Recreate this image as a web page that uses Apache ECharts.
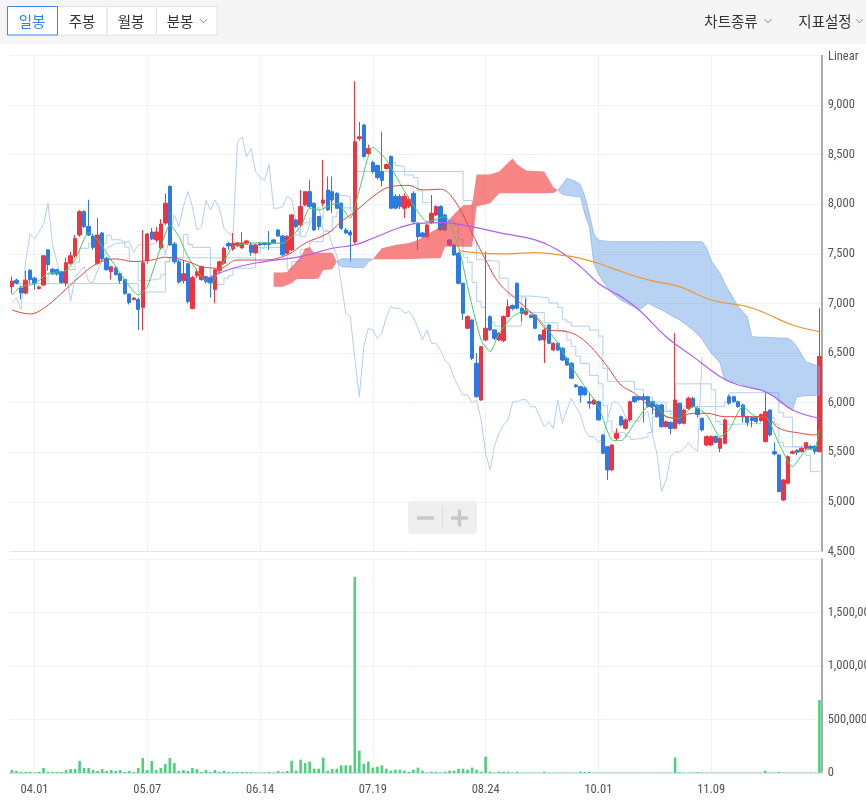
<!DOCTYPE html>
<html><head><meta charset="utf-8">
<script src="https://cdn.jsdelivr.net/npm/echarts@6/dist/echarts.min.js"></script>
<style>html,body{margin:0;padding:0;background:#fff}#c{width:866px;height:804px}</style>
</head><body><div id="c"></div>
<script>
const dates = ['03.25','03.26','03.29','03.30','03.31',
'04.01','04.02','04.05','04.06','04.07','04.08','04.09','04.12','04.13','04.14','04.15','04.16','04.19','04.20','04.21','04.22','04.23','04.26','04.27','04.28','04.29','04.30',
'05.03','05.04','05.06','05.07','05.10','05.11','05.12','05.13','05.14','05.17','05.18','05.20','05.21','05.24','05.25','05.26','05.27','05.28','05.31',
'06.01','06.02','06.03','06.04','06.07','06.08','06.09','06.10','06.11','06.14','06.15','06.16','06.17','06.18','06.21','06.22','06.23','06.24','06.25','06.28','06.29','06.30',
'07.01','07.02','07.05','07.06','07.07','07.08','07.09','07.12','07.13','07.14','07.15','07.16','07.19','07.20','07.21','07.22','07.23','07.26','07.27','07.28','07.29','07.30',
'08.02','08.03','08.04','08.05','08.06','08.09','08.10','08.11','08.12','08.13','08.17','08.18','08.19','08.20','08.23','08.24','08.25','08.26','08.27','08.30','08.31',
'09.01','09.02','09.03','09.06','09.07','09.08','09.09','09.10','09.13','09.14','09.15','09.16','09.17','09.23','09.24','09.27','09.28','09.29','09.30',
'10.01','10.05','10.06','10.07','10.08','10.12','10.13','10.14','10.15','10.18','10.19','10.20','10.21','10.22','10.25','10.26','10.27','10.28','10.29',
'11.01','11.02','11.03','11.04','11.05','11.08','11.09','11.10','11.11','11.12','11.15','11.16','11.17','11.18','11.19','11.22','11.23','11.24','11.25','11.26','11.29','11.30',
'12.01','12.02','12.03','12.06','12.07','12.08','12.09','12.10','12.13'];

const openP = [7170,7235,7155,7105,7335,7255,7150,7185,7540,7345,
7340,7320,7205,7405,7480,7690,7925,7775,7680,7405,
7710,7455,7320,7360,7300,7240,7095,7040,7040,6960,
7430,7720,7640,7560,7810,8180,7600,7420,7230,7400,
6950,7280,7240,7270,7260,7140,7330,7405,7605,7550,
7580,7560,7600,7590,7510,7605,7610,7610,7640,7740,
7680,7506,7539,7842,7791,7992,8127,8010,7876,8010,
8144,8127,8110,8010,7740,7720,7620,8660,8798,8510,
8420,8390,8330,8360,8480,8080,8077,7960,7980,8110,
7808,7710,7673,7814,7892,7976,7892,7640,7590,7506,
7203,6750,6834,6397,6027,6632,6867,6733,6632,6625,
6867,6980,7203,6952,6890,6880,6884,6683,6632,6783,
6531,6599,6548,6447,6397,6178,6161,6150,6010,5986,
6010,5674,5556,5322,5641,5859,5742,5826,6060,6060,
6060,6060,6010,5977,5977,5758,5800,5742,5994,5792,
5943,6044,5940,5843,5573,5573,5658,5540,5590,6060,
6060,6010,5977,5860,5850,5850,5820,5607,5926,5506,
5473,5019,5188,5490,5520,5506,5540,5560,5560,5506];

const highP = [7270,7250,7180,7330,7345,7270,7180,7490,7545,7360,
7350,7330,7460,7520,7690,7940,7940,8045,7700,7860,
7720,7470,7380,7380,7310,7250,7100,7060,7060,7740,
7710,7760,7770,7850,8110,8190,7620,7440,7440,7410,
7280,7350,7380,7280,7270,7350,7430,7570,7620,7710,
7620,7720,7640,7620,7600,7620,7620,7730,7650,7750,
7690,7690,7900,7850,8144,8130,8245,8020,7880,8447,
8280,8280,8120,8020,7760,7740,9240,8830,8810,8600,
8440,8400,8730,8410,8490,8100,8100,8110,8080,8130,
7820,7720,7800,8093,7990,7990,7900,7650,7600,7520,
7210,6880,6840,6500,6570,7522,6880,6740,6710,6880,
7040,6990,7210,6960,7050,6890,6890,6690,6750,6790,
6610,6610,6560,6460,6410,6190,6170,6160,6100,6040,
6020,5680,5560,5580,5740,5870,5840,6020,6070,6070,
6090,6070,6020,5990,5990,5820,5810,6700,6000,5940,
6060,6060,5960,5850,5670,5670,5670,5650,5840,6080,
6070,6020,5990,5870,5860,5860,5890,6100,5930,5600,
5480,5230,5470,5520,5530,5550,5600,5570,5570,6952];

const lowP = [7100,7190,7040,7090,7200,7140,7140,7180,7330,7290,
7280,7200,7170,7390,7460,7670,7760,7680,7540,7390,
7430,7330,7240,7280,7200,7090,6990,7030,6730,6730,
7400,7640,7620,7540,7790,7580,7400,7200,7200,7000,
6940,7260,7230,7200,7060,7000,7300,7390,7540,7530,
7570,7550,7590,7480,7500,7580,7590,7540,7600,7670,
7480,7500,7530,7760,7780,7980,7960,7730,7740,7976,
7930,7910,7950,7740,7700,7420,7600,8640,8470,8490,
8310,8250,8180,8350,7950,7950,7950,7860,7960,7810,
7539,7660,7660,7800,7880,7730,7730,7580,7480,7190,
6834,6740,6430,6050,6020,6620,6720,6630,6620,6610,
6860,6930,6940,6820,6880,6850,6740,6620,6400,6590,
6520,6520,6420,6370,6240,6150,6000,6070,5940,5980,
5820,5480,5221,5310,5620,5760,5730,5810,6000,6020,
5800,5950,5880,5850,5750,5750,5680,5730,5780,5780,
5930,5950,5850,5710,5560,5560,5590,5500,5580,5980,
6000,5950,5800,5760,5750,5790,5810,5600,5660,5470,
5100,5010,5180,5480,5470,5500,5530,5530,5480,5500];

const closeP = [7225,7205,7105,7235,7240,7205,7165,7480,7390,7305,
7300,7210,7410,7480,7655,7925,7775,7690,7565,7690,
7450,7340,7370,7290,7230,7100,7010,7055,6940,7410,
7700,7650,7720,7800,8010,7590,7420,7215,7300,7020,
7260,7320,7370,7220,7210,7340,7420,7556,7580,7605,
7610,7610,7630,7515,7590,7590,7595,7595,7610,7680,
7490,7673,7892,7774,7976,8127,7976,7741,7774,8043,
7943,8043,7959,7758,7710,7690,8630,8680,8480,8560,
8330,8270,8240,8400,7960,7960,7976,8080,8050,7824,
7673,7673,7791,7909,7976,7741,7741,7590,7489,7203,
6901,6867,6447,6060,6564,6750,6733,6649,6700,6867,
6968,6950,6952,6900,6920,6860,6750,6632,6733,6599,
6599,6531,6430,6380,6246,6161,6077,6080,5994,6027,
5826,5490,5322,5573,5691,5775,5826,6010,6010,6030,
6030,5960,5960,5859,5758,5808,5740,6027,5792,5926,
6044,5960,5880,5725,5658,5658,5600,5641,5826,5994,
6010,5960,5859,5800,5820,5810,5880,5909,5674,5483,
5103,5221,5456,5506,5500,5540,5597,5540,5510,6465];

const volume = [28000,19000,9000,9000,9000,4000,9000,47000,9000,9000,
9000,9000,28000,37000,37000,112000,47000,47000,28000,19000,
37000,19000,28000,19000,28000,9000,19000,9000,47000,140000,
28000,112000,28000,47000,84000,140000,93000,19000,28000,19000,
47000,37000,9000,28000,9000,28000,9000,19000,9000,9000,
9000,9000,9000,9000,3000,3000,3000,9000,3000,19000,
9000,19000,115000,22000,125000,93000,107000,40000,40000,143000,
22000,40000,40000,72000,72000,72000,1832000,209000,84000,107000,
50000,59000,72000,40000,22000,31000,31000,22000,12000,31000,
50000,22000,3000,12000,12000,5000,12000,22000,22000,40000,
40000,31000,50000,31000,12000,153000,12000,3000,12000,12000,
12000,3000,12000,3000,3000,3000,3000,3000,12000,3000,
3000,3000,3000,3000,3000,3000,12000,10000,12000,3000,
3000,3000,3000,3000,3000,3000,3000,3000,3000,3000,
3000,3000,3000,3000,3000,3000,3000,145000,8000,3000,
3000,3000,8000,3000,3000,3000,3000,3000,3000,3000,
3000,3000,3000,3000,3000,3000,3000,22000,3000,3000,
10000,3000,3000,3000,3000,3000,3000,3000,3000,682000];

// moving averages: [candle index, value]
const ma5 = [[0,7085],[2,7169],[5,7196],[8,7304],[12,7331],[14,7438],[17,7714],[19,7640],[22,7438],[25,7237],[28,7085],[30,7169],[33,7572],[35,7791],[37,7673],[39,7471],[42,7270],[44,7190],[46,7338],[49,7572],[53,7607],[56,7610],[60,7607],[64,7774],[66,7960],[68,7943],[72,8010],[75,7860],[77,8144],[80,8574],[83,8447],[86,8210],[89,7990],[92,7824],[96,7875],[99,7572],[101,7169],[104,6632],[106,6514],[108,6699],[111,6867],[114,6934],[117,6834],[121,6599],[124,6364],[127,6161],[130,5960],[133,5624],[135,5617],[138,5792],[142,6010],[145,5859],[148,5843],[151,5960],[154,5876],[157,5658],[159,5725],[162,5960],[165,5859],[167,5859],[170,5590],[173,5355],[176,5523],[178,5540],[179,5725]];
const ma20 = [[0,6934],[4,6894],[7,6951],[11,7103],[15,7270],[19,7405],[23,7449],[27,7422],[31,7438],[34,7466],[39,7422],[42,7371],[46,7355],[50,7438],[56,7438],[61,7489],[65,7607],[70,7707],[73,7824],[76,7925],[81,8110],[84,8177],[88,8190],[91,8144],[95,8151],[98,8043],[102,7707],[105,7438],[108,7203],[112,7035],[116,6867],[119,6733],[123,6716],[127,6620],[132,6363],[135,6178],[138,6094],[142,5943],[147,5843],[151,5893],[154,5893],[158,5859],[163,5859],[167,5859],[170,5742],[175,5691],[178,5674],[179,5708]];
const ma60 = [[43,7247],[49,7355],[56,7422],[64,7472],[71,7556],[76,7590],[80,7657],[86,7766],[90,7808],[96,7814],[101,7781],[108,7714],[116,7640],[121,7539],[126,7371],[130,7203],[133,7120],[135,7069],[139,6934],[145,6665],[151,6464],[157,6262],[161,6178],[166,6128],[169,6060],[173,5926],[179,5843]];
const ma120 = [[99,7532],[108,7499],[116,7512],[123,7479],[126,7455],[130,7405],[134,7338],[141,7237],[148,7169],[155,7035],[163,6968],[167,6901],[173,6783],[179,6716]];

// Ichimoku conversion / base lines (level changes): [candle index, value]
const tenkan = [[0,7200],[8,7292],[11,7317],[12,7342],[14,7415],[15,7555],[17,7607],[21,7687],[22,7642],[24,7622],[25,7567],[26,7425],[28,7225],[29,7235],[31,7245],[32,7250],[33,7290],[34,7420],[35,7460],[38,7695],[39,7595],[40,7565],[44,7280],[45,7190],[47,7255],[48,7280],[49,7355],[53,7360],[54,7510],[55,7555],[56,7600],[57,7605],[59,7615],[62,7690],[64,7812],[66,7862],[69,7973],[70,7988],[71,8088],[74,8073],[75,7933],[76,8330],[84,8420],[85,8390],[86,8380],[87,8295],[89,8270],[90,8135],[91,8015],[93,7835],[98,7787],[99,7642],[100,7464],[101,7417],[102,7210],[103,7020],[104,6960],[105,6835],[106,6810],[107,6771],[113,7066],[114,6910],[118,6805],[121,6725],[123,6630],[124,6565],[125,6470],[126,6395],[128,6275],[130,6190],[131,5970],[132,5815],[133,5705],[134,5695],[136,5660],[137,5630],[138,5645],[140,5655],[141,5700],[142,5855],[143,5910],[145,5920],[146,5885],[147,6190],[155,6130],[156,5810],[157,5780],[159,5790],[166,5830],[167,5850],[169,5785],[170,5600],[171,5555],[176,5470],[177,5305],[179,5305]];
const kijun = [[0,7200],[28,7115],[34,7420],[35,7460],[54,7565],[61,7345],[62,7420],[64,7542],[66,7622],[69,7723],[71,7873],[72,7918],[73,7963],[76,8330],[100,8037],[102,7630],[103,7440],[104,7425],[108,7255],[110,7075],[115,7056],[119,7005],[121,6960],[122,6835],[123,6810],[124,6771],[128,6731],[130,6671],[131,6345],[132,6215],[138,6135],[140,6055],[142,6005],[145,5915],[147,5960],[158,6005],[159,6100],[170,5900],[171,5855],[173,5555],[179,5555]];

// Ichimoku cloud regions: [candle index, upper edge, lower edge]
const cloudRed1 = [[58,7311,7169],[60,7311,7169],[61,7317,7185],[62,7371,7203],[63,7420,7244],[64,7470,7247],[65,7556,7247],[66,7566,7247],[67,7512,7247],[68,7512,7254],[69,7512,7338],[71,7512,7345],[72,7420,7420]];
const cloudBlue1 = [[72,7420,7420],[73,7450,7370],[78,7450,7360],[79,7450,7420],[80,7445,7445]];
const cloudRed2 = [[80,7445,7445],[82,7556,7445],[85,7590,7445],[88,7610,7445],[90,7640,7450],[93,7720,7455],[95,7775,7455],[96,7800,7572],[98,7900,7572],[100,7990,7572],[102,7995,7572],[103,8300,7976],[106,8300,8010],[108,8330,8110],[110,8420,8110],[111,8460,8110],[112,8400,8110],[114,8340,8110],[118,8330,8110],[119,8250,8114],[120,8170,8114],[121,8140,8140]];
const cloudBlue2 = [[121,8140,8140],[122,8200,8100],[123,8262,8090],[125,8228,8077],[126,8200,8077],[127,8080,7900],[128,7900,7774],[129,7700,7400],[130,7640,7300],[131,7630,7220],[133,7623,7103],[135,7623,7035],[139,7623,6934],[141,7623,7002],[144,7623,6934],[148,7623,6834],[151,7623,6733],[153,7623,6640],[154,7560,6564],[155,7430,6500],[157,7304,6397],[158,7200,6229],[161,6968,6195],[163,6867,6160],[164,6665,6140],[166,6660,6128],[169,6655,6060],[170,6652,6010],[172,6649,5960],[173,6620,5926],[174,6564,6060],[176,6413,6070],[179,6363,6077]];

// lagging span: closes plotted 26 sessions back
const lagging = closeP.slice(26);

const priceTicks = {min: 4500, max: 9500, step: 500};
const volTicks = {min: 0, max: 2000000, step: 500000};

const UP = '#f2323f', DOWN = '#2c7be3';
const ICHI = '#b3cff3';
const FONT = "'Liberation Sans Narrow','Roboto Condensed',Roboto,sans-serif";
const KFONT = "'Noto Sans CJK KR','Noto Sans',sans-serif";
const labelIdx = (i) => i % 25 === 5;
const fmt = (v) => v.toLocaleString('en-US');

const cloudRegions = [
  {pts: cloudRed1, fill: 'rgba(243,58,58,0.62)', stroke: 'rgba(0,0,0,0)'},
  {pts: cloudBlue1, fill: 'rgba(112,165,232,0.5)', stroke: 'rgba(120,170,235,0.6)'},
  {pts: cloudRed2, fill: 'rgba(243,58,58,0.62)', stroke: 'rgba(0,0,0,0)'},
  {pts: cloudBlue2, fill: 'rgba(112,165,232,0.5)', stroke: 'rgba(120,170,235,0.6)'}
];

function renderCloud(params, api) {
  const r = cloudRegions[params.dataIndex];
  const top = r.pts.map(p => api.coord([p[0], p[1]]));
  const bot = r.pts.map(p => api.coord([p[0], p[2]])).reverse();
  return {type: 'polygon', shape: {points: top.concat(bot)}, style: {fill: r.fill, stroke: r.stroke, lineWidth: 1}};
}

function chevron(cx, cy) {
  return {type: 'polyline', shape: {points: [[cx - 3.5, cy - 1.8], [cx, cy + 1.8], [cx + 3.5, cy - 1.8]]}, style: {stroke: '#8a8a8a', lineWidth: 1, fill: null}};
}
function btn(x, w, txt, tx, selected) {
  return [
    {type: 'rect', shape: {x: x + 0.5, y: 6.5, width: w, height: 28.5}, style: {fill: '#fff', stroke: selected ? '#3b86f5' : '#e2e2e2', lineWidth: 1}, z: selected ? 11 : 10},
    {type: 'text', x: tx, y: 21, style: {text: txt, font: '14.5px ' + KFONT, fill: selected ? '#2f7ef2' : '#333', align: 'center', verticalAlign: 'middle'}, z: 12}
  ];
}

const chart = echarts.init(document.getElementById('c'), null, {renderer: 'canvas'});
const option = {
  animation: false,
  backgroundColor: '#fff',
  grid: [
    {left: 9.7, right: 44.3, top: 55.4, height: 496.1, outerBoundsMode: 'none', containLabel: false},
    {left: 9.7, right: 44.3, top: 559, height: 214, outerBoundsMode: 'none', containLabel: false}
  ],
  xAxis: [
    {type: 'category', gridIndex: 0, data: dates, boundaryGap: true,
     axisLabel: {show: false}, axisTick: {show: false},
     axisLine: {show: true, lineStyle: {color: '#e4e4e4'}},
     splitLine: {show: true, interval: labelIdx, alignWithLabel: true, lineStyle: {color: '#eef1f5'}}},
    {type: 'category', gridIndex: 1, data: dates, boundaryGap: true,
     axisLabel: {interval: labelIdx, color: '#555', fontSize: 12.5, fontFamily: FONT, margin: 10},
     axisTick: {show: false},
     axisLine: {show: true, lineStyle: {color: '#dde3ea', width: 2}},
     splitLine: {show: true, interval: labelIdx, alignWithLabel: true, lineStyle: {color: '#eef1f5'}}}
  ],
  yAxis: [
    {type: 'value', gridIndex: 0, position: 'right', min: priceTicks.min, max: priceTicks.max, interval: priceTicks.step,
     axisLine: {show: true, lineStyle: {color: '#8f8f8f', width: 1.5}}, axisTick: {show: false},
     axisLabel: {color: '#555', fontSize: 12.5, fontFamily: FONT, margin: 6, showMaxLabel: false, formatter: fmt},
     splitLine: {lineStyle: {color: '#f1f1f1'}}},
    {type: 'value', gridIndex: 1, position: 'right', min: volTicks.min, max: volTicks.max, interval: volTicks.step,
     axisLine: {show: true, lineStyle: {color: '#8f8f8f', width: 1.5}}, axisTick: {show: false},
     axisLabel: {color: '#555', fontSize: 12.5, fontFamily: FONT, margin: 6, showMaxLabel: false, formatter: fmt},
     splitLine: {lineStyle: {color: '#f1f1f1'}}}
  ],
  series: [
    {type: 'line', name: 'lagging', data: lagging, symbol: 'none', z: 1, lineStyle: {color: ICHI, width: 1}},
    {type: 'line', name: 'tenkan', data: tenkan, symbol: 'none', step: 'end', z: 1, lineStyle: {color: ICHI, width: 1}},
    {type: 'line', name: 'kijun', data: kijun, symbol: 'none', step: 'end', z: 1, lineStyle: {color: ICHI, width: 1}},
    {type: 'candlestick', name: 'price', xAxisIndex: 0, yAxisIndex: 0, z: 2, barWidth: 3.9,
     data: dates.map((d, i) => [openP[i], closeP[i], lowP[i], highP[i]]),
     itemStyle: {color: UP, color0: DOWN, borderColor: UP, borderColor0: DOWN, borderWidth: 1}},
    {type: 'custom', name: 'cloud', xAxisIndex: 0, yAxisIndex: 0, z: 3, silent: true,
     data: cloudRegions.map(r => [r.pts[0][0], r.pts[0][1]]),
     renderItem: renderCloud},
    {type: 'line', name: 'MA5', data: ma5, symbol: 'none', z: 4, smooth: 0.2, lineStyle: {color: '#43cf5c', width: 1}},
    {type: 'line', name: 'MA20', data: ma20, symbol: 'none', z: 4, smooth: 0.4, lineStyle: {color: '#e8453c', width: 1}},
    {type: 'line', name: 'MA60', data: ma60, symbol: 'none', z: 4, smooth: 0.4, lineStyle: {color: '#b25ef2', width: 1.2}},
    {type: 'line', name: 'MA120', data: ma120, symbol: 'none', z: 4, smooth: 0.4, lineStyle: {color: '#f5952d', width: 1.2}},
    {type: 'bar', name: 'volume', xAxisIndex: 1, yAxisIndex: 1, data: volume, barWidth: 2.6,
     itemStyle: {color: '#4fd07b'}}
  ],
  graphic: [
    {type: 'rect', shape: {x: 0, y: 0, width: 866, height: 44}, style: {fill: '#f5f5f5'}, z: 5},
    ...btn(57, 49.5, '주봉', 82, false),
    ...btn(106.5, 49.5, '월봉', 131, false),
    ...btn(156, 60.5, '분봉', 180, false),
    ...btn(7, 50, '일봉', 32, true),
    Object.assign(chevron(203.5, 21), {z: 12}),
    {type: 'text', x: 731, y: 21, style: {text: '차트종류', font: '14.5px ' + KFONT, fill: '#333', align: 'center', verticalAlign: 'middle'}, z: 12},
    Object.assign(chevron(768, 21), {z: 12}),
    {type: 'text', x: 825, y: 21, style: {text: '지표설정', font: '14.5px ' + KFONT, fill: '#333', align: 'center', verticalAlign: 'middle'}, z: 12},
    Object.assign(chevron(859.5, 21), {z: 12}),
    {type: 'text', x: 828, y: 57, style: {text: 'Linear', font: '12.5px ' + FONT, fill: '#555', align: 'left', verticalAlign: 'middle'}, z: 12},
    {type: 'rect', shape: {x: 408, y: 501, width: 69, height: 33, r: 4}, style: {fill: '#efefef'}, z: 12},
    {type: 'line', shape: {x1: 417, y1: 518, x2: 434, y2: 518}, style: {stroke: '#c8c8c8', lineWidth: 3.5}, z: 13},
    {type: 'line', shape: {x1: 442.5, y1: 506, x2: 442.5, y2: 528}, style: {stroke: '#dcdcdc', lineWidth: 1}, z: 13},
    {type: 'line', shape: {x1: 451, y1: 518, x2: 468, y2: 518}, style: {stroke: '#c8c8c8', lineWidth: 3.5}, z: 13},
    {type: 'line', shape: {x1: 459.5, y1: 509.5, x2: 459.5, y2: 526.5}, style: {stroke: '#c8c8c8', lineWidth: 3.5}, z: 13}
  ]
};
chart.setOption(option);
</script>
</body></html>
